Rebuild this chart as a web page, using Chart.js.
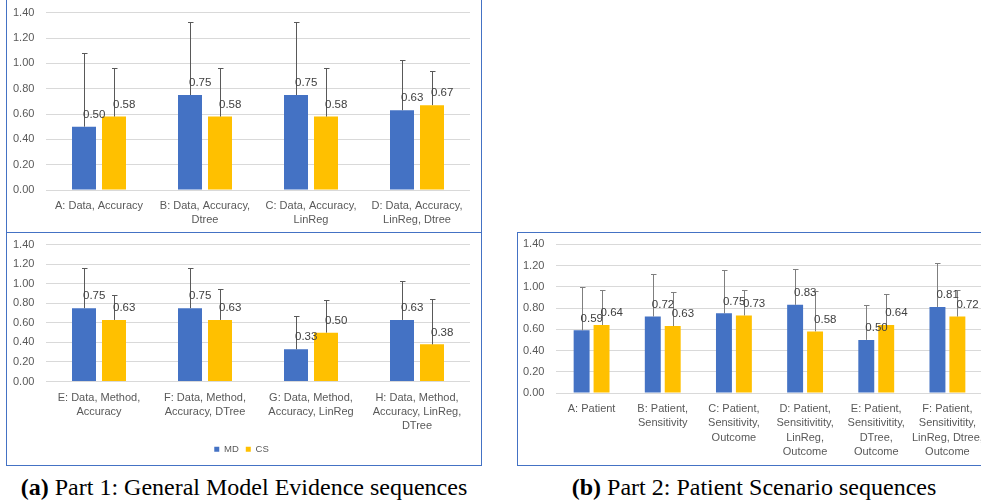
<!DOCTYPE html>
<html>
<head>
<meta charset="utf-8">
<script src="https://cdn.jsdelivr.net/npm/chart.js@4.4.1/dist/chart.umd.min.js"></script>
<style>
  html, body { margin:0; padding:0; background:#fff; width:981px; height:502px; overflow:hidden; position:relative; }
  .panel { position:absolute; border:1px solid #4472C4; box-sizing:border-box; }
  canvas { position:absolute; }
  .cap { position:absolute; font-family:"Liberation Serif","DejaVu Serif",serif; font-size:24px; line-height:28px; color:#000; white-space:nowrap; transform:translateX(-50%); }
</style>
</head>
<body>
<div class="panel" style="left:6px; top:-10px; width:476px; height:243px;"></div>
<div class="panel" style="left:6px; top:232px; width:476px; height:234px;"></div>
<div class="panel" style="left:517px; top:232px; width:500px; height:234px;"></div>

<canvas id="c1" width="474" height="231" style="left:7px; top:0px; width:474px; height:231px;"></canvas>
<canvas id="c2" width="474" height="231" style="left:7px; top:233px; width:474px; height:231px;"></canvas>
<canvas id="c3" width="477" height="231" style="left:518px; top:233px; width:477px; height:231px;"></canvas>

<div class="cap" style="left:244px; top:473px;"><b>(a)</b> Part 1: General Model Evidence sequences</div>
<div class="cap" style="left:754px; top:473px;"><b>(b)</b> Part 2: Patient Scenario sequences</div>

<script>
// ---------- Data ----------
const seriesNames = ["MD", "CS"];
const yTicks = [0, 0.2, 0.4, 0.6, 0.8, 1.0, 1.2, 1.4];

const part1aLabels = [
  "A: Data, Accuracy",
  ["B: Data, Accuracy,", "Dtree"],
  ["C: Data, Accuracy,", "LinReg"],
  ["D: Data, Accuracy,", "LinReg, Dtree"]
];
const part1aMD = [0.50, 0.75, 0.75, 0.63];
const part1aCS = [0.58, 0.58, 0.58, 0.67];
const part1aMDerr = [0.58, 0.58, 0.58, 0.40];
const part1aCSerr = [0.38, 0.38, 0.38, 0.27];

const part1bLabels = [
  ["E: Data, Method,", "Accuracy"],
  ["F: Data, Method,", "Accuracy, DTree"],
  ["G: Data, Method,", "Accuracy, LinReg"],
  ["H: Data, Method,", "Accuracy, LinReg,", "DTree"]
];
const part1bMD = [0.75, 0.75, 0.33, 0.63];
const part1bCS = [0.63, 0.63, 0.50, 0.38];
const part1bMDerr = [0.41, 0.41, 0.34, 0.40];
const part1bCSerr = [0.26, 0.32, 0.33, 0.46];

const part2Labels = [
  "A: Patient",
  ["B: Patient,", "Sensitivity"],
  ["C: Patient,", "Sensitivity,", "Outcome"],
  ["D: Patient,", "Sensitivitity,", "LinReg,", "Outcome"],
  ["E: Patient,", "Sensitivitity,", "DTree,", "Outcome"],
  ["F: Patient,", "Sensitivitity,", "LinReg, Dtree,", "Outcome"]
];
const part2MD = [0.59, 0.72, 0.75, 0.83, 0.50, 0.81];
const part2CS = [0.64, 0.63, 0.73, 0.58, 0.64, 0.72];
const part2MDerr = [0.41, 0.40, 0.41, 0.34, 0.33, 0.41];
const part2CSerr = [0.33, 0.32, 0.24, 0.38, 0.29, 0.25];

// ---------- Styling ----------
const MD_COLOR = "#4472C4";
const CS_COLOR = "#FFC000";
const FONT = "'Liberation Sans', Arial, sans-serif";

const errLabelPlugin = {
  id: "errLabels",
  afterDatasetsDraw(chart) {
    const ctx = chart.ctx;
    const y = chart.scales.y;
    const o = chart.options.plugins.errLabels || {};
    ctx.save();
    chart.data.datasets.forEach((ds, di) => {
      const meta = chart.getDatasetMeta(di);
      meta.data.forEach((bar, i) => {
        const v = ds.data[i], e = ds.errors[i];
        const x = Math.round(bar.x) + 0.5;
        const yTop = Math.round(y.getPixelForValue(v + e)) + 0.5;
        const yBase = y.getPixelForValue(v);
        ctx.strokeStyle = o.errColor || "#595959";
        ctx.lineWidth = 1;
        ctx.beginPath();
        ctx.moveTo(x, yBase);
        ctx.lineTo(x, yTop);
        ctx.moveTo(x - 2.5, yTop);
        ctx.lineTo(x + 3, yTop);
        ctx.stroke();
      });
    });
    chart.data.datasets.forEach((ds, di) => {
      const meta = chart.getDatasetMeta(di);
      meta.data.forEach((bar, i) => {
        const v = ds.data[i];
        ctx.font = "11.5px " + FONT;
        ctx.fillStyle = "#404040";
        ctx.textAlign = "left";
        ctx.textBaseline = "middle";
        ctx.fillText(v.toFixed(2), bar.x - 1, y.getPixelForValue(v) - 12);
      });
    });
    ctx.restore();
  }
};

function makeChart(id, labels, md, cs, mdErr, csErr, opts) {
  return new Chart(document.getElementById(id), {
    type: "bar",
    data: {
      labels: labels,
      datasets: [
        { label: seriesNames[0], data: md, errors: mdErr, backgroundColor: MD_COLOR },
        { label: seriesNames[1], data: cs, errors: csErr, backgroundColor: CS_COLOR }
      ]
    },
    options: {
      responsive: false,
      animation: false,
      devicePixelRatio: 1,
      datasets: { bar: { barPercentage: 0.8, categoryPercentage: opts.catPct } },
      layout: { padding: opts.padding },
      plugins: {
        legend: opts.legend ? {
          display: true,
          position: "bottom",
          labels: {
            boxWidth: 5, boxHeight: 5, padding: 7,
            color: "#595959",
            font: { family: FONT, size: 9.5 }
          }
        } : { display: false },
        tooltip: { enabled: false },
        errLabels: { errColor: opts.errColor }
      },
      scales: {
        x: {
          grid: { display: false, drawTicks: false },
          border: { display: false },
          ticks: {
            autoSkip: false, maxRotation: 0, minRotation: 0,
            color: "#595959", padding: 9,
            font: { family: FONT, size: 11, lineHeight: 1.3 }
          },
          afterFit(s) { s.height = opts.xHeight; }
        },
        y: {
          min: 0, max: 1.4,
          afterBuildTicks(s) { s.ticks = yTicks.map(v => ({ value: v })); },
          grid: { color: "#D9D9D9", lineWidth: 1, drawTicks: false },
          border: { display: false },
          ticks: {
            color: "#595959", padding: 0, crossAlign: "far",
            font: { family: FONT, size: 11 },
            callback: v => Number(v).toFixed(2)
          },
          afterFit(s) { s.width = opts.yWidth; }
        }
      }
    },
    plugins: [errLabelPlugin]
  });
}

makeChart("c1", part1aLabels, part1aMD, part1aCS, part1aMDerr, part1aCSerr, {
  catPct: 0.566, padding: { left: 6, right: 11, top: 12.7, bottom: 0 },
  xHeight: 41, yWidth: 33, legend: false, errColor: "#595959"
});
makeChart("c2", part1bLabels, part1bMD, part1bCS, part1bMDerr, part1bCSerr, {
  catPct: 0.566, padding: { left: 6, right: 11, top: 11.7, bottom: 0 },
  xHeight: 56, yWidth: 33, legend: true, errColor: "#595959"
});
makeChart("c3", part2Labels, part2MD, part2CS, part2MDerr, part2CSerr, {
  catPct: 0.56, padding: { left: 5, right: 12, top: 11.3, bottom: 0 },
  xHeight: 71, yWidth: 33, legend: false, errColor: "#7F7F7F"
});
</script>
</body>
</html>
